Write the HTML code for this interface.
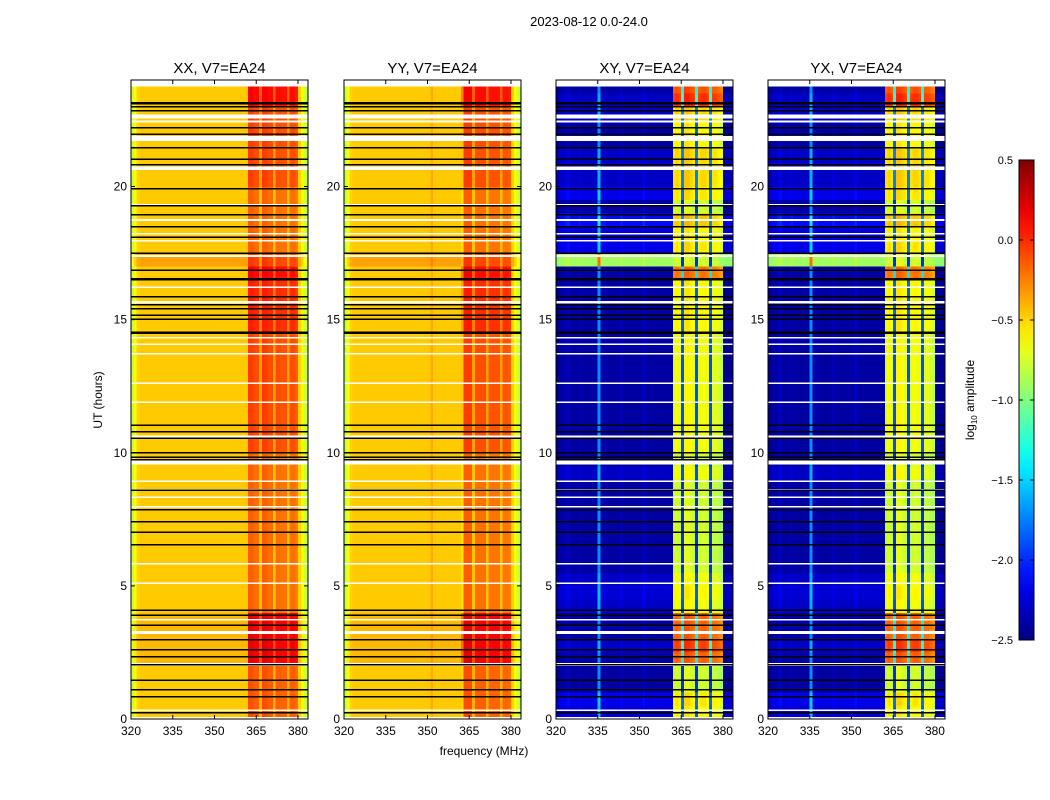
<!DOCTYPE html>
<html><head><meta charset="utf-8"><style>
body{margin:0;background:#fff;}
svg{display:block;font-family:"Liberation Sans",sans-serif;}
</style></head><body>
<svg id="chart" width="1050" height="800" viewBox="0 0 1050 800" xmlns="http://www.w3.org/2000/svg">
<rect width="1050" height="800" fill="#fff"/>
<text x="589" y="26" font-size="13" text-anchor="middle">2023-08-12 0.0-24.0</text>
<text x="484" y="755" font-size="12" text-anchor="middle">frequency (MHz)</text>
<text x="102" y="400" font-size="12" text-anchor="middle" transform="rotate(-90 102 400)">UT (hours)</text>
<g id="panels"></g>
<g id="cbar"></g>
</svg>
<script>
// ---- data ----
const panelTitles = ["XX, V7=EA24","YY, V7=EA24","XY, V7=EA24","YX, V7=EA24"];
const freqStart = 320; // MHz, 1 MHz channels
const specXX = [-0.78,-0.62,-0.5,-0.47,-0.47,-0.47,-0.47,-0.47,-0.47,-0.47,-0.47,-0.47,-0.47,-0.47,-0.47,-0.47,-0.47,-0.47,-0.47,-0.47,-0.47,-0.47,-0.47,-0.47,-0.47,-0.47,-0.47,-0.47,-0.47,-0.47,-0.47,-0.47,-0.47,-0.47,-0.47,-0.47,-0.47,-0.47,-0.47,-0.47,-0.47,-0.47,-0.05,-0.05,-0.1,-0.1,-0.35,-0.05,-0.05,-0.1,-0.1,-0.35,-0.1,-0.1,-0.12,-0.12,-0.35,-0.1,-0.1,-0.15,-0.5,-0.62,-0.75,-0.88];
const specYY = [-0.78,-0.62,-0.5,-0.47,-0.47,-0.47,-0.47,-0.47,-0.47,-0.47,-0.47,-0.47,-0.47,-0.47,-0.47,-0.47,-0.47,-0.47,-0.47,-0.47,-0.47,-0.47,-0.47,-0.47,-0.47,-0.47,-0.47,-0.47,-0.47,-0.47,-0.47,-0.38,-0.47,-0.47,-0.47,-0.47,-0.47,-0.47,-0.47,-0.47,-0.47,-0.47,-0.45,-0.05,-0.05,-0.05,-0.35,-0.1,-0.1,-0.1,-0.1,-0.35,-0.12,-0.12,-0.12,-0.12,-0.35,-0.12,-0.12,-0.15,-0.5,-0.62,-0.75,-0.88];
const specXY = [-2.45,-2.4,-2.4,-2.35,-2.3,-2.4,-2.4,-2.4,-2.35,-2.4,-2.4,-2.4,-2.4,-2.4,-2.4,-1.7,-2.4,-2.35,-2.4,-2.4,-2.4,-2.4,-2.4,-2.35,-2.4,-2.4,-2.4,-2.4,-2.4,-2.4,-2.4,-2.3,-2.4,-2.4,-2.4,-2.4,-2.4,-2.4,-2.4,-2.4,-2.4,-2.4,-0.8,-0.75,-0.8,-2.0,-0.7,-0.7,-0.75,-0.8,-2.0,-0.8,-0.75,-0.75,-0.8,-2.0,-0.8,-0.8,-0.85,-0.9,-2.45,-2.45,-2.45,-2.45];
const specYX = specXY;
const parBandBoost = [-0.05,-0.05,-0.05,-0.05,0.2,0.2,0.2,0.2,-0.1,-0.1,-0.1,-0.1,-0.1,-0.1,-0.1,-0.1,-0.1,-0.1,-0.1,-0.1,0.0,0.0,0.0,0.0,0.0,0.0,0.0,0.0,0.0,0.1,0.1,0.1,0.1,0.2,-0.1,-0.1,-0.1,-0.1,-0.1,-0.1,0.0,0.0,0.0,0.0,0.0,0.0,0.2,0.2];
const parRowShift = [0,0,0,0,0.05,0.05,0.05,0.05,0,0,0,0,0,0,0,0,0,0,0,0,0,0,0,0,0,0,0,0,0,0,0,0,0,0,0.12,0,0,0,0,0,0,0,0,0,0,0,0,0];
const crossBandBoost = [0,0,0,0,0.6,0.6,0.6,0.6,0,0,0,0,0,0,0,0,0,0,0,0,0.1,0.1,0.1,0.1,0.1,0.1,0.1,0.1,0.1,0.15,0.15,0.15,0.15,0.55,-1.5,0,0,0,0,0,0.15,0.15,0.15,0.15,0.15,0.15,0.65,0.65];
const crossRowShift = [0.15,0.2,0,0,0,0.1,0,0,0.1,0.15,0.1,0,0,0,0,0,0,0,0.1,0,0,0,0,0,0,0,0,0,0,0,0,0,0,0,1.5,0.2,0.15,0.3,0,0.2,0.1,0.1,0.1,0,0,0.1,0.1,0];
const blackLines = [23.14,23.1,22.99,22.84,22.2,21.97,21.45,21.03,20.81,19.91,19.27,18.93,18.48,18.1,17.5,16.86,16.53,16.5,15.85,15.55,15.4,15.17,15.02,14.52,14.48,11.04,10.78,10.55,10.0,9.84,9.73,8.6,7.85,7.4,7.02,6.54,4.09,3.9,3.53,2.97,2.6,2.33,2.03,1.46,1.09,0.83,0.23];
const whiteGaps = [[23.75,24.0],[22.55,22.7],[22.4,22.47],[21.7,21.9],[20.62,20.75],[19.25,19.35],[18.7,18.78],[18.2,18.25],[17.95,18.0],[17.35,17.42],[16.2,16.25],[15.6,15.7],[14.3,14.35],[14.05,14.1],[13.7,13.75],[12.6,12.63],[11.9,11.93],[10.55,10.65],[9.55,9.7],[8.9,8.95],[8.6,8.64],[8.3,8.35],[7.95,8.0],[5.8,5.85],[5.1,5.13],[3.7,3.75],[3.2,3.3],[2.0,2.1],[0.3,0.35],[0.0,0.07]];
const xTicks = [320,335,350,365,380];
const yTicks = [0,5,10,15,20];
const cbarTicks = [0.5,0.0,-0.5,-1.0,-1.5,-2.0,-2.5];
// ---- layout ----
const panelX = [131,344,556,768], panelW = 177, plotTop = 80, plotBottom = 719;
const fMin = 320, fMax = 383.6, vMin = -2.5, vMax = 0.5, nRows = 48;
const NS = "http://www.w3.org/2000/svg";
function jet(t){t=Math.max(0,Math.min(1,t));
 const c=x=>Math.max(0,Math.min(1,x));
 const r=c(Math.min(4*t-1.5,-4*t+4.5)),g=c(Math.min(4*t-0.5,-4*t+3.5)),b=c(Math.min(4*t+0.5,-4*t+2.5));
 return `rgb(${Math.round(r*255)},${Math.round(g*255)},${Math.round(b*255)})`;}
function mk(tag,attrs,parent){const e=document.createElementNS(NS,tag);for(const k in attrs)e.setAttribute(k,attrs[k]);parent.appendChild(e);return e;}
const root=document.getElementById('panels');
const specs=[specXX,specYY,specXY,specYX];
panelX.forEach((px,p)=>{
 const xs=f=>px+(f-fMin)/(fMax-fMin)*panelW;
 const ys=h=>plotBottom-h/24*(plotBottom-plotTop);
 const g=mk('g',{},root);
 
 
 const hm=mk('g',{'shape-rendering':'crispEdges'},g);
 
 
 const cross=p>=2, spec=specs[p];
 const boost=cross?crossBandBoost:parBandBoost, shift=cross?crossRowShift:parRowShift;
 for(let r=0;r<nRows;r++){
  const y0=ys((r+1)*0.5), y1=ys(r*0.5);
  for(let i=0;i<spec.length;i++){
   const f=freqStart+i; const inBand=f>=362&&f<380;
   const v=spec[i]+shift[r]+(inBand?boost[r]:0);
   const x0=xs(f), x1=Math.min(xs(f+1),px+panelW);
   const c=mk('rect',{x:x0,y:y0,width:x1-x0+0.3,height:y1-y0+0.3,fill:jet((v-vMin)/(vMax-vMin))},hm);
   
   
  }
 }
 whiteGaps.forEach(w=>{const e=mk('rect',{x:px,y:ys(w[1]),width:panelW,height:Math.max(1.5,ys(w[0])-ys(w[1])),fill:'#fff'},hm);
  
  });
 blackLines.forEach(h=>{const e=mk('rect',{x:px,y:ys(h)-0.75,width:panelW,height:1.5,fill:'#000'},hm);
  
  });
 const fr=mk('rect',{x:px,y:plotTop,width:panelW,height:plotBottom-plotTop,fill:'none',stroke:'#000','stroke-width':1},g);
 
 
 const t=mk('text',{x:px+panelW/2,y:73,'font-size':15,'text-anchor':'middle'},g);t.textContent=panelTitles[p];
 
 
 xTicks.forEach(f=>{const x=xs(f);
  mk('line',{x1:x,x2:x,y1:plotBottom,y2:plotBottom-4,stroke:'#000'},g);
  mk('line',{x1:x,x2:x,y1:plotTop,y2:plotTop+4,stroke:'#000'},g);
  const l=mk('text',{x:x,y:plotBottom+16,'font-size':12,'text-anchor':'middle'},g);l.textContent=f;
  
  });
 yTicks.forEach(h=>{const y=ys(h);
  mk('line',{x1:px,x2:px+4,y1:y,y2:y,stroke:'#000'},g);
  mk('line',{x1:px+panelW,x2:px+panelW-4,y1:y,y2:y,stroke:'#000'},g);
  const l=mk('text',{x:px-4,y:y+4,'font-size':12,'text-anchor':'end'},g);l.textContent=h;
  
  });
});
// colorbar
const cb=document.getElementById('cbar');
const cbx=1019,cbw=15,cbt=160,cbb=640;
const defs=mk('defs',{},cb);
const lg=mk('linearGradient',{id:'jetg',x1:0,y1:1,x2:0,y2:0},defs);
for(let i=0;i<=20;i++)mk('stop',{offset:i/20,'stop-color':jet(i/20)},lg);
const bar=mk('rect',{x:cbx,y:cbt,width:cbw,height:cbb-cbt,fill:'url(#jetg)',stroke:'#000','stroke-width':1},cb);


cbarTicks.forEach(v=>{const y=cbb-(v-vMin)/(vMax-vMin)*(cbb-cbt);
 mk('line',{x1:cbx,x2:cbx+4,y1:y,y2:y,stroke:'#000'},cb);
 mk('line',{x1:cbx+cbw,x2:cbx+cbw-4,y1:y,y2:y,stroke:'#000'},cb);
 const l=mk('text',{x:1013,y:y+4,'font-size':11,'text-anchor':'end'},cb);l.textContent=v.toFixed(1).replace('-','\u2212');
 
 });
const cl=mk('text',{x:974,y:400,'font-size':12,'text-anchor':'middle',transform:'rotate(-90 974 400)'},cb);
cl.innerHTML='log<tspan font-size="8" dy="3">10</tspan><tspan dy="-3"> amplitude</tspan>';


</script>
</body></html>
